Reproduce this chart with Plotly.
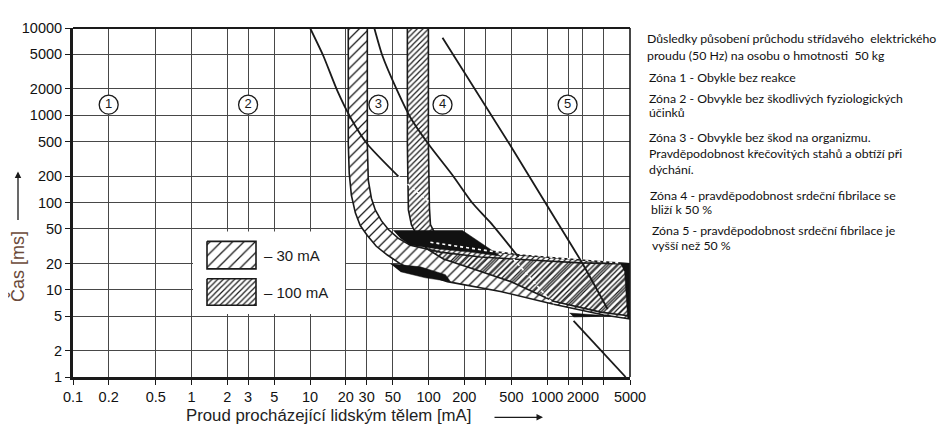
import numpy as np
import plotly.graph_objects as go

# ---------------- axis ticks ----------------
x_tick_vals = [0.1, 0.2, 0.5, 1, 2, 3, 5, 10, 20, 30, 50, 100, 200, 300, 500, 1000, 1500, 2000, 3000, 5000]
x_tick_text = ['0.1', '0.2', '0.5', '1', '2', '3', '5', '10', '20', '30', '50', '100', '200', '',
               '500', '1000', '', '2000', '', '5000']
y_tick_vals = [1, 2, 5, 10, 20, 50, 100, 200, 500, 1000, 2000, 5000, 10000]
y_tick_text = ['1', '2', '5', '10', '20', '50', '100', '200', '500', '1000', '2000', '5000', '10000']

# ---------------- zone boundary curves (mA, ms) ----------------
curve_b_ma = [10, 12.9, 17.0, 21.9, 30.4, 55.6]
curve_b_ms = [10000, 4840, 1900, 943, 468, 199]
curve_b_hidden_ma = [55.6, 103.6]
curve_b_hidden_ms = [199, 98.7]

curve_c1_ma = [34.8, 40.7, 54.5, 70.2, 99.6, 162, 234, 333, 573]
curve_c1_ms = [10000, 4836, 1901, 943, 468, 199, 98.7, 58.7, 23.7]

curve_c2_ma = [131, 481, 969, 1953, 3237]
curve_c2_ms = [7715, 468, 98.7, 20.8, 6.0]

curve_c3_ma = [1671, 4594]
curve_c3_ms = [4.39, 1.0]

# ---------------- RCD tripping bands (mA, ms) ----------------
band30_ma = [21.0, 21.0, 21.4, 22.3, 24.1, 26.5, 30.4, 36.2, 44.9, 57.8, 80.4, 144.1, 404, 1133, 2995, 5000,
             5000, 1915, 724, 274, 125.8, 70.2, 55.6, 45.8, 39.9, 35.5, 32.9, 31.0, 30.4, 30.4]
band30_ms = [10000, 468, 215, 121.5, 76.1, 54.4, 41.9, 31.5, 25.0, 19.8, 16.1, 12.4, 9.56, 6.82, 5.13, 4.62,
             19.8, 20.3, 21.9, 23.7, 27.0, 32.3, 38.8, 49.0, 61.9, 82.3, 112, 179, 468, 10000]

band100_ma = [66.2, 66.2, 67.5, 71.6, 77.4, 85.3, 97.7, 133.4, 225.4, 491, 1133, 2825, 5000,
              5000, 1915, 596, 248.5, 152.8, 114.1, 103.6, 101.6, 99.6, 99.6]
band100_ms = [10000, 468, 82.3, 55.8, 45.3, 35.9, 29.2, 22.5, 17.8, 12.4, 7.37, 5.54, 5.0,
              19.8, 21.9, 25.0, 29.2, 34.1, 43.0, 55.8, 86.7, 468, 10000]

# solid black regions
black1_ma = [50.4, 193, 404, 225.4, 125.8, 70.2, 57.8]
black1_ms = [47.8, 47.8, 24.3, 27.0, 29.2, 32.3, 38.8]
black2_ma = [47.6, 85.3, 138.7, 152.8, 94.0, 57.8]
black2_ms = [19.8, 18.3, 14.9, 12.4, 13.7, 16.1]
black3_ma = [4168, 5000, 5000, 4777, 4500]
black3_ms = [19.8, 19.8, 4.7, 4.7, 16.0]
black4_ma = [1545, 2014, 3432, 1671]
black4_ms = [5.40, 5.26, 5.0, 4.87]

# white (hidden) boundary traces over the hatching
white_top_ma = [103.6, 332.7, 1298, 4168]
white_top_ms = [35.0, 27.7, 23.1, 20.3]
white_diag_ma = [520, 767, 1133]
white_diag_ms = [22.5, 12.4, 6.82]

# zone labels
zone_ma = [0.2, 3.0, 37.7, 131, 1487]
zone_ms = [1322, 1322, 1322, 1322, 1322]
zone_text = ['1', '2', '3', '4', '5']

legend_labels = ['– 30 mA', '– 100 mA']

side_text = [
    'Důsledky působení průchodu střídavého  elektrického',
    'proudu (50 Hz) na osobu o hmotnosti  50 kg',
    'Zóna 1 - Obykle bez reakce',
    'Zóna 2 - Obvykle bez škodlivých fyziologických',
    'účinků',
    'Zóna 3 - Obvykle bez škod na organizmu.',
    'Pravděpodobnost křečovitých stahů a obtíží při',
    'dýchání.',
    'Zóna 4 - pravděpodobnost srdeční fibrilace se',
    'bliží k 50 %',
    'Zóna 5 - pravděpodobnost srdeční fibrilace je',
    'vyšší než 50 %',
]
side_y_px = [33, 50, 72, 94, 108, 133, 150, 166, 192, 207, 228, 243]
side_x_px = [645, 645, 647, 647, 647, 647, 647, 647, 648, 649, 650, 650]

# ---------------- figure ----------------
# screen coordinates of the plot area (page body has an 8 px margin)
OFF = 8
L, R, T, B = 73, 630, 22, 377
W, H = R - L, B - T
FIG_W, FIG_H = 949 - OFF, 427 - OFF
def px(xp):
    return (xp - L) / W
def py(yp):
    return (B - yp) / H

fig = go.Figure()
INK = '#1a1a1a'

# white under-layers of bands (hide grid)
for bx, by in [(band30_ma, band30_ms), (band100_ma, band100_ms)]:
    fig.add_trace(go.Scatter(x=bx, y=by, mode='lines', fill='toself', fillcolor='white',
                             line=dict(width=0), hoverinfo='skip'))

# hatched bands
fig.add_trace(go.Scatter(x=band30_ma, y=band30_ms, mode='lines', fill='toself',
                         fillcolor='rgba(0,0,0,0)',
                         fillpattern=dict(shape='/', size=7, solidity=0.18, fgcolor=INK,
                                          bgcolor='rgba(0,0,0,0)', fillmode='replace'),
                         line=dict(color=INK, width=1.6), hoverinfo='skip'))
fig.add_trace(go.Scatter(x=band100_ma, y=band100_ms, mode='lines', fill='toself',
                         fillcolor='rgba(0,0,0,0)',
                         fillpattern=dict(shape='/', size=4, solidity=0.3, fgcolor=INK,
                                          bgcolor='rgba(0,0,0,0)', fillmode='replace'),
                         line=dict(color=INK, width=1.6), hoverinfo='skip'))

# black regions
for bx, by in [(black1_ma, black1_ms), (black2_ma, black2_ms), (black3_ma, black3_ms), (black4_ma, black4_ms)]:
    fig.add_trace(go.Scatter(x=bx, y=by, mode='lines', fill='toself', fillcolor='#111',
                             line=dict(color='#111', width=0.5), hoverinfo='skip'))

# white hidden boundary traces
for bx, by in [(curve_b_hidden_ma, curve_b_hidden_ms), (white_top_ma, white_top_ms), (white_diag_ma, white_diag_ms)]:
    fig.add_trace(go.Scatter(x=bx, y=by, mode='lines', line=dict(color='white', width=1.6, dash='dot'),
                             hoverinfo='skip'))

# zone curves
for cx, cy in [(curve_b_ma, curve_b_ms), (curve_c1_ma, curve_c1_ms), (curve_c2_ma, curve_c2_ms), (curve_c3_ma, curve_c3_ms)]:
    fig.add_trace(go.Scatter(x=cx, y=cy, mode='lines', line=dict(color=INK, width=1.8, shape='spline', smoothing=0.6),
                             hoverinfo='skip'))

# zone labels
fig.add_trace(go.Scatter(x=zone_ma, y=zone_ms, mode='markers+text', text=zone_text,
                         textposition='middle center',
                         textfont=dict(family='Liberation Sans', size=13, color=INK),
                         marker=dict(symbol='circle', size=19, color='white', line=dict(color=INK, width=1.3)),
                         hoverinfo='skip'))

# legend box & swatches on an overlay axis in plot fractions
box_x = [px(193), px(345), px(345), px(193), px(193)]
box_y = [py(229), py(229), py(313), py(313), py(229)]
fig.add_trace(go.Scatter(x=box_x, y=box_y, xaxis='x2', yaxis='y2', mode='lines', fill='toself',
                         fillcolor='white', line=dict(width=0), hoverinfo='skip'))
sw = [((207, 256), (239, 267), 8, 0.16), ((207, 256), (277, 304), 4, 0.3)]
for (x0, x1), (y0, y1), sz, sol in sw:
    fig.add_trace(go.Scatter(x=[px(x0), px(x1), px(x1), px(x0), px(x0)],
                             y=[py(y0), py(y0), py(y1), py(y1), py(y0)],
                             xaxis='x2', yaxis='y2', mode='lines', fill='toself', fillcolor='rgba(0,0,0,0)',
                             fillpattern=dict(shape='/', size=sz, solidity=sol, fgcolor=INK,
                                              bgcolor='white', fillmode='replace'),
                             line=dict(color=INK, width=1.6), hoverinfo='skip'))

annotations = []
for lab, yy in zip(legend_labels, [253, 291]):
    annotations.append(dict(x=px(262), y=py(yy), xref='paper', yref='paper', text=lab, showarrow=False,
                            xanchor='left', yanchor='middle',
                            font=dict(family='Liberation Sans', size=15, color=INK)))

for t, xx, yy in zip(side_text, side_x_px, side_y_px):
    annotations.append(dict(x=px(xx), y=py(yy), xref='paper', yref='paper', text=t, showarrow=False,
                            xanchor='left', yanchor='middle',
                            font=dict(family='Lato', size=12.3, color='#111')))

# axis titles
annotations.append(dict(x=px(18), y=py(265), xref='paper', yref='paper', text='Čas [ms]', showarrow=False,
                        textangle=-90, xanchor='center', yanchor='middle',
                        font=dict(family='Liberation Sans', size=18, color='#6b4a3a')))
annotations.append(dict(x=px(18), y=py(168), xref='paper', yref='paper', text='', showarrow=True,
                        ax=0, ay=50, arrowhead=2, arrowsize=1, arrowwidth=1.3, arrowcolor=INK))
annotations.append(dict(x=px(185), y=py(416), xref='paper', yref='paper',
                        text='Proud procházející lidským tělem [mA]', showarrow=False,
                        xanchor='left', yanchor='middle', borderpad=0,
                        font=dict(family='Liberation Sans', size=16.8, color='#222')))
annotations.append(dict(x=px(543), y=py(418), xref='paper', yref='paper', text='', showarrow=True,
                        ax=-50, ay=0, arrowhead=2, arrowsize=1, arrowwidth=1.3, arrowcolor=INK))

tickfont = dict(family='Liberation Sans', size=14.5, color='#111')
fig.update_layout(
    width=FIG_W, height=FIG_H,
    margin=dict(l=L - OFF, r=FIG_W - (R - OFF), t=T - OFF, b=FIG_H - (B - OFF)),
    plot_bgcolor='white', paper_bgcolor='white', showlegend=False,
    xaxis=dict(type='log', range=[-1, np.log10(5000)], tickvals=x_tick_vals, ticktext=x_tick_text,
               showgrid=True, gridcolor='#484848', gridwidth=1.2, zeroline=False,
               showline=True, linecolor=INK, linewidth=3, ticks='outside', ticklen=5,
               tickcolor=INK, tickwidth=1.2, tickfont=tickfont),
    yaxis=dict(type='log', range=[0, 4], tickvals=y_tick_vals, ticktext=y_tick_text,
               showgrid=True, gridcolor='#484848', gridwidth=1.2, zeroline=False,
               showline=True, linecolor=INK, linewidth=3, ticks='outside', ticklen=5,
               tickcolor=INK, tickwidth=1.2, tickfont=tickfont),
    xaxis2=dict(overlaying='x', range=[0, 1], visible=False),
    yaxis2=dict(overlaying='y', range=[0, 1], visible=False),
    annotations=annotations,
    shapes=[
        dict(type='line', xref='paper', yref='paper', x0=0, x1=1, y0=1, y1=1, line=dict(color=INK, width=2)),
        dict(type='line', xref='paper', yref='paper', x0=1, x1=1, y0=0, y1=1, line=dict(color=INK, width=1.6)),
    ],
)

fig.write_html('out.html')
